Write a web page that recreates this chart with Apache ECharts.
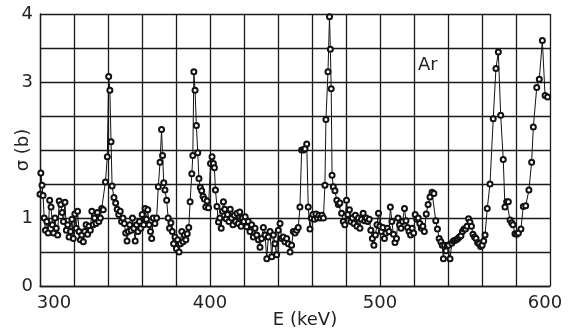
<!DOCTYPE html>
<html>
<head>
<meta charset="utf-8">
<script src="https://cdn.jsdelivr.net/npm/echarts@6/dist/echarts.min.js"></script>
<style>
  html, body { margin: 0; padding: 0; background: #fff; }
  #chart { width: 569px; height: 331px; }
</style>
</head>
<body>
<div id="chart"></div>
<script>
// energies (keV)
const energy = [
  300, 300.5, 301.2, 301.8, 302.5, 303.2, 304, 304.8, 305.7, 306.5, 307.3, 308, 308.8, 309.6, 310.4,
  311.3, 312.2, 313, 313.8, 314.7, 315.5, 316.3, 317.1, 318, 318.8, 319.6, 320.5, 321.3, 322.1, 323,
  323.8, 324.6, 325.5, 326.3, 327.1, 328, 328.8, 329.6, 330.5, 331.3, 332.1, 333, 333.8, 334.6, 335.5,
  336.3, 337.2, 338.5, 339.6, 340.4, 341.1, 341.8, 342.4, 343.5, 344.5, 345.4, 346.3, 347.2, 348, 348.8,
  349.6, 350.4, 351.2, 352, 352.8, 353.6, 354.4, 355.2, 356, 356.8, 357.6, 358.5, 359.3, 360.1, 361,
  361.8, 362.6, 363.4, 364.2, 365, 365.7, 366.6, 367.6, 368.6, 369.6, 370.6, 371.5, 372.1, 372.8, 373.5,
  374.5, 375.4, 376.2, 377, 377.8, 378.6, 379.4, 380.2, 381, 381.8, 382.6, 383.4, 384.2, 385, 385.8,
  386.6, 387.5, 388.3, 389.3, 389.9, 390.5, 391.2, 392, 392.8, 393.5, 394.3, 395.1, 395.9, 396.7, 397.5,
  398.3, 399.1, 400.3, 401.2, 402, 402.6, 403.2, 404.1, 405, 405.8, 406.6, 407.3, 407.9, 408.7, 409.5,
  410.3, 411.1, 411.9, 412.7, 413.5, 414.3, 415.1, 415.9, 416.7, 417.5, 418.3, 419.1, 419.9, 420.7, 421.6,
  422.5, 423.5, 424.5, 425.5, 426.5, 427.5, 428.5, 429.4, 430.4, 431.4, 432.4, 433.4, 434.3, 435.3, 436.3,
  437.3, 438.2, 439.2, 440.2, 441.2, 442.1, 443.1, 444.1, 445.1, 446.1, 447.1, 448, 449, 450, 451,
  451.9, 452.9, 453.9, 455, 455.9, 456.9, 457.8, 458.8, 459.6, 460.5, 461.4, 462.3, 463.2, 464.1, 465,
  465.9, 466.7, 467.6, 468.2, 469.4, 470.3, 470.8, 471.3, 471.8, 472.5, 473.5, 474.6, 475.5, 476.4, 477.4,
  478.4, 479.3, 480.3, 481.1, 482, 482.9, 483.8, 484.7, 485.5, 486.4, 487.3, 488.2, 489.1, 490.1, 491,
  491.9, 492.8, 493.7, 494.6, 495.5, 496.4, 497.3, 498.2, 499.1, 499.9, 500.8, 501.7, 502.6, 503.5, 504.4,
  505.3, 506.1, 507, 507.9, 508.8, 509.7, 510.6, 511.5, 512.4, 513.3, 514.4, 515.3, 516.2, 517.1, 518,
  518.9, 519.8, 520.7, 521.6, 522.5, 523.4, 524.3, 525.2, 526.1, 527.2, 528.3, 529.4, 530.6, 531.7, 532.8,
  533.8, 534.8, 535.8, 536.6, 537.3, 538, 538.8, 539.6, 540.4, 541.2, 542.2, 543.1, 544, 544.9, 545.8,
  546.7, 547.6, 548.5, 549.4, 550.3, 551.2, 552.1, 552.9, 553.8, 554.7, 555.6, 556.5, 557.4, 558.3, 559.2,
  560.1, 561, 561.8, 563.1, 564.7, 566.6, 568.2, 569.6, 571, 572.5, 573.5, 574.5, 575.5, 576.5, 577.4,
  578.2, 579.4, 580.4, 581.4, 582.9, 584.3, 585.7, 587.6, 589.2, 590.2, 592.2, 593.7, 595.5, 597.1, 598.6
];
// cross section sigma (b)
const sigma = [
  1.35, 1.66, 1.48, 1.33, 1.0, 0.82, 0.95, 0.78, 1.26, 1.16, 0.9, 0.78, 1.0, 0.85, 0.75,
  1.25, 1.2, 1.08, 0.95, 1.23, 0.82, 0.9, 0.72, 0.8, 0.98, 0.7, 1.06, 0.85, 1.1, 0.8,
  0.68, 0.75, 0.65, 0.8, 0.9, 0.76, 0.88, 0.82, 1.1, 0.9, 1.0, 0.92, 1.08, 0.95, 1.0,
  1.14, 1.12, 1.53, 1.9, 3.08, 2.88, 2.12, 1.47, 1.3, 1.22, 1.13, 1.05, 1.1, 0.95, 1.0,
  0.92, 0.78, 0.66, 0.8, 0.9, 0.82, 1.0, 0.85, 0.66, 0.9, 0.8, 0.95, 0.85, 1.05, 0.9,
  1.14, 0.98, 1.12, 0.9, 0.8, 0.7, 1.0, 0.92, 1.0, 1.46, 1.82, 2.3, 1.92, 1.52, 1.41,
  1.26, 1.0, 0.85, 0.93, 0.8, 0.62, 0.72, 0.55, 0.68, 0.5, 0.62, 0.8, 0.65, 0.75, 0.68,
  0.77, 0.86, 1.24, 1.65, 1.92, 3.15, 2.88, 2.36, 1.96, 1.58, 1.45, 1.4, 1.32, 1.28, 1.16,
  1.25, 1.15, 1.8, 1.9, 1.8, 1.74, 1.41, 1.17, 0.94, 1.0, 0.85, 1.1, 1.24, 1.13, 0.99,
  1.05, 0.95, 1.13, 1.0, 0.9, 1.04, 0.95, 1.07, 0.92, 1.09, 0.88, 1.0, 0.95, 1.02, 0.87,
  0.95, 0.8, 0.9, 0.72, 0.85, 0.75, 0.68, 0.57, 0.7, 0.86, 0.75, 0.4, 0.72, 0.8, 0.43,
  0.75, 0.62, 0.46, 0.82, 0.92, 0.7, 0.72, 0.65, 0.7, 0.62, 0.5, 0.6, 0.8, 0.78, 0.82,
  0.86, 1.16, 2.0, 2.0, 2.02, 2.09, 1.16, 0.84, 1.0, 1.05, 0.98, 1.06, 1.0, 1.04, 1.0,
  1.04, 1.0, 1.48, 2.45, 3.15, 3.96, 3.48, 2.9, 1.63, 1.46, 1.4, 1.26, 1.2, 1.22, 1.07,
  0.95, 0.9, 1.26, 1.05, 1.12, 0.95, 1.0, 0.92, 1.04, 0.88, 1.0, 0.85, 0.98, 1.07, 0.96,
  1.0, 0.95, 0.98, 0.82, 0.7, 0.6, 0.75, 0.9, 1.07, 0.88, 0.8, 0.86, 0.7, 0.78, 0.85,
  0.8, 1.16, 0.95, 0.76, 0.64, 0.7, 1.0, 0.9, 0.85, 0.95, 1.14, 0.96, 0.86, 0.8, 0.75,
  0.85, 0.78, 1.05, 0.98, 1.0, 0.92, 0.85, 0.88, 0.8, 1.06, 1.2, 1.31, 1.38, 1.36, 0.96,
  0.84, 0.7, 0.65, 0.6, 0.4, 0.6, 0.52, 0.6, 0.6, 0.4, 0.63, 0.66, 0.67, 0.68, 0.7,
  0.72, 0.74, 0.8, 0.84, 0.84, 0.88, 0.99, 0.94, 0.88, 0.76, 0.72, 0.7, 0.64, 0.62, 0.58,
  0.6, 0.66, 0.75, 1.14, 1.5, 2.46, 3.2, 3.44, 2.51, 1.86, 1.16, 1.24, 1.24, 0.97, 0.93,
  0.9, 0.77, 0.76, 0.78, 0.84, 1.17, 1.18, 1.41, 1.82, 2.34, 2.92, 3.04, 3.61, 2.8, 2.78
];
const xLabels = [300, 400, 500, 600];
const yLabels = [0, 1, 3, 4];

const chart = echarts.init(document.getElementById("chart"));
const font = "DejaVu Sans";
const gridLine = { show: true, lineStyle: { color: "#1a1a1a", width: 1.3 } };

const option = {
  animation: false,
  grid: { left: 40, right: 19, top: 14, bottom: 45, outerBoundsMode: "none", containLabel: false },
  xAxis: {
    type: "value",
    min: 300,
    max: 600,
    interval: 20,
    name: "E (keV)",
    nameLocation: "middle",
    nameGap: 25,
    nameMoveOverlap: false,
    nameTextStyle: { fontFamily: font, fontSize: 18, color: "#222", padding: [0, 0, 0, 20] },
    axisLine: { show: true, lineStyle: { color: "#1a1a1a", width: 1.3 } },
    axisTick: { show: false },
    splitLine: gridLine,
    axisLabel: {
      margin: 8,
      fontFamily: font,
      fontSize: 18,
      color: "#222",
      formatter: (v) => {
        if (!xLabels.includes(v)) return "";
        if (v === 300) return "{l|300}";
        if (v === 600) return "{r|600}";
        return String(v);
      },
      rich: {
        l: { fontFamily: font, fontSize: 18, color: "#222", padding: [0, 0, 0, 28] },
        r: { fontFamily: font, fontSize: 18, color: "#222", padding: [0, 10, 0, 0] }
      }
    }
  },
  yAxis: {
    type: "value",
    min: 0,
    max: 4,
    interval: 0.5,
    name: "σ (b)",
    nameLocation: "middle",
    nameGap: 8,
    nameMoveOverlap: false,
    nameTextStyle: { fontFamily: font, fontSize: 18, color: "#222" },
    axisLine: { show: true, lineStyle: { color: "#1a1a1a", width: 1.3 } },
    axisTick: { show: false },
    splitLine: gridLine,
    axisLabel: {
      margin: 7,
      fontFamily: font,
      fontSize: 18,
      color: "#222",
      formatter: (v) => (yLabels.includes(v) ? String(v) : "")
    }
  },
  graphic: [{
    type: "text",
    left: 418,
    top: 56,
    style: { text: "Ar", font: "18px DejaVu Sans", fill: "#222" }
  }],
  series: [{
    type: "line",
    data: energy.map((e, i) => [e, sigma[i]]),
    symbol: "emptyCircle",
    symbolSize: 5,
    showAllSymbol: true,
    lineStyle: { color: "#111", width: 1 },
    itemStyle: { color: "#111", borderColor: "#111", borderWidth: 1.3 }
  }]
};
chart.setOption(option);
</script>
</body>
</html>
